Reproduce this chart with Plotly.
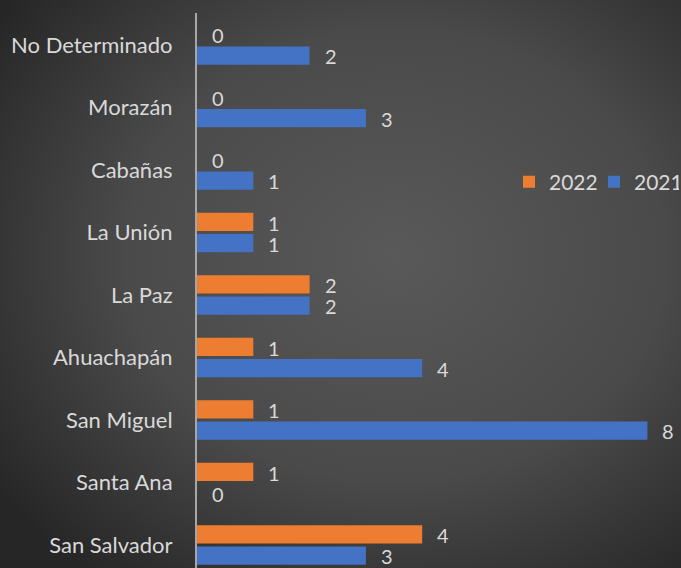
import base64
import plotly.graph_objects as go

categories = ["San Salvador", "Santa Ana", "San Miguel", "Ahuachapán", "La Paz",
              "La Unión", "Cabañas", "Morazán", "No Determinado"]
values_2021 = [3, 0, 8, 4, 2, 1, 1, 3, 2]
values_2022 = [4, 1, 1, 1, 2, 1, 0, 0, 0]

BLUE = "#4472C4"
ORANGE = "#ED7D31"
TXT = "#d9d9d9"
FONT = "Lato, Carlito, Calibri, sans-serif"

W, H = 681, 568
ML, MR, MT, MB = 197, 0, 13, 0

svg = f'''<svg xmlns="http://www.w3.org/2000/svg" width="{W}" height="{H}" viewBox="0 0 {W} {H}" preserveAspectRatio="none">
<defs><radialGradient id="g" cx="0.58" cy="0.45" r="0.72">
<stop offset="0" stop-color="#595959"/><stop offset="0.55" stop-color="#4a4a4a"/><stop offset="1" stop-color="#262626"/>
</radialGradient></defs><rect width="{W}" height="{H}" fill="url(#g)"/></svg>'''
bg_src = "data:image/svg+xml;base64," + base64.b64encode(svg.encode()).decode()

fig = go.Figure()
fig.add_trace(go.Bar(y=categories, x=values_2021, name="2021", orientation="h",
                     marker=dict(color=BLUE, line=dict(width=0)), hoverinfo="skip"))
fig.add_trace(go.Bar(y=categories, x=values_2022, name="2022", orientation="h",
                     marker=dict(color=ORANGE, line=dict(width=0)), hoverinfo="skip"))

ann = []
for c, v in zip(categories, values_2021):
    ann.append(dict(x=v, y=c, text=str(v), xref="x", yref="y", showarrow=False,
                    xanchor="left", yanchor="middle", xshift=13, yshift=-11,
                    font=dict(family=FONT, size=20, color=TXT)))
for c, v in zip(categories, values_2022):
    ann.append(dict(x=v, y=c, text=str(v), xref="x", yref="y", showarrow=False,
                    xanchor="left", yanchor="middle", xshift=13, yshift=10,
                    font=dict(family=FONT, size=20, color=TXT)))

pw = W - ML - MR
ph = H - MT - MB
fig.update_layout(
    width=W, height=H,
    margin=dict(l=ML, r=MR, t=MT, b=MB, pad=0, autoexpand=False),
    paper_bgcolor="#3a3a3a",
    plot_bgcolor="rgba(0,0,0,0)",
    barmode="group", bargap=0.32, bargroupgap=0.13,
    annotations=ann,
    images=[dict(source=bg_src, xref="paper", yref="paper",
                 x=-ML / pw, y=1 + MT / ph, sizex=W / pw, sizey=H / ph,
                 xanchor="left", yanchor="top", sizing="stretch", layer="below")],
    xaxis=dict(range=[0, pw / 56.3], showgrid=False, zeroline=False,
               showticklabels=False, showline=False, ticks="", automargin=False),
    yaxis=dict(range=[-0.368, 8.512], showgrid=False, zeroline=False,
               showline=True, linecolor="#a6a6a6", linewidth=2,
               ticks="", ticklabelstandoff=18, automargin=False,
               tickfont=dict(family=FONT, size=22, color=TXT)),
    showlegend=True,
    legend=dict(orientation="h", x=(509 - ML) / pw, y=(H - 182) / ph,
                xanchor="left", yanchor="middle", traceorder="reversed",
                bgcolor="rgba(0,0,0,0)", font=dict(family=FONT, size=21, color=TXT),
                itemwidth=30, entrywidth=40),
)

fig.write_html("out.html", config={"displayModeBar": False},
               post_script="document.body.style.margin='0';")
